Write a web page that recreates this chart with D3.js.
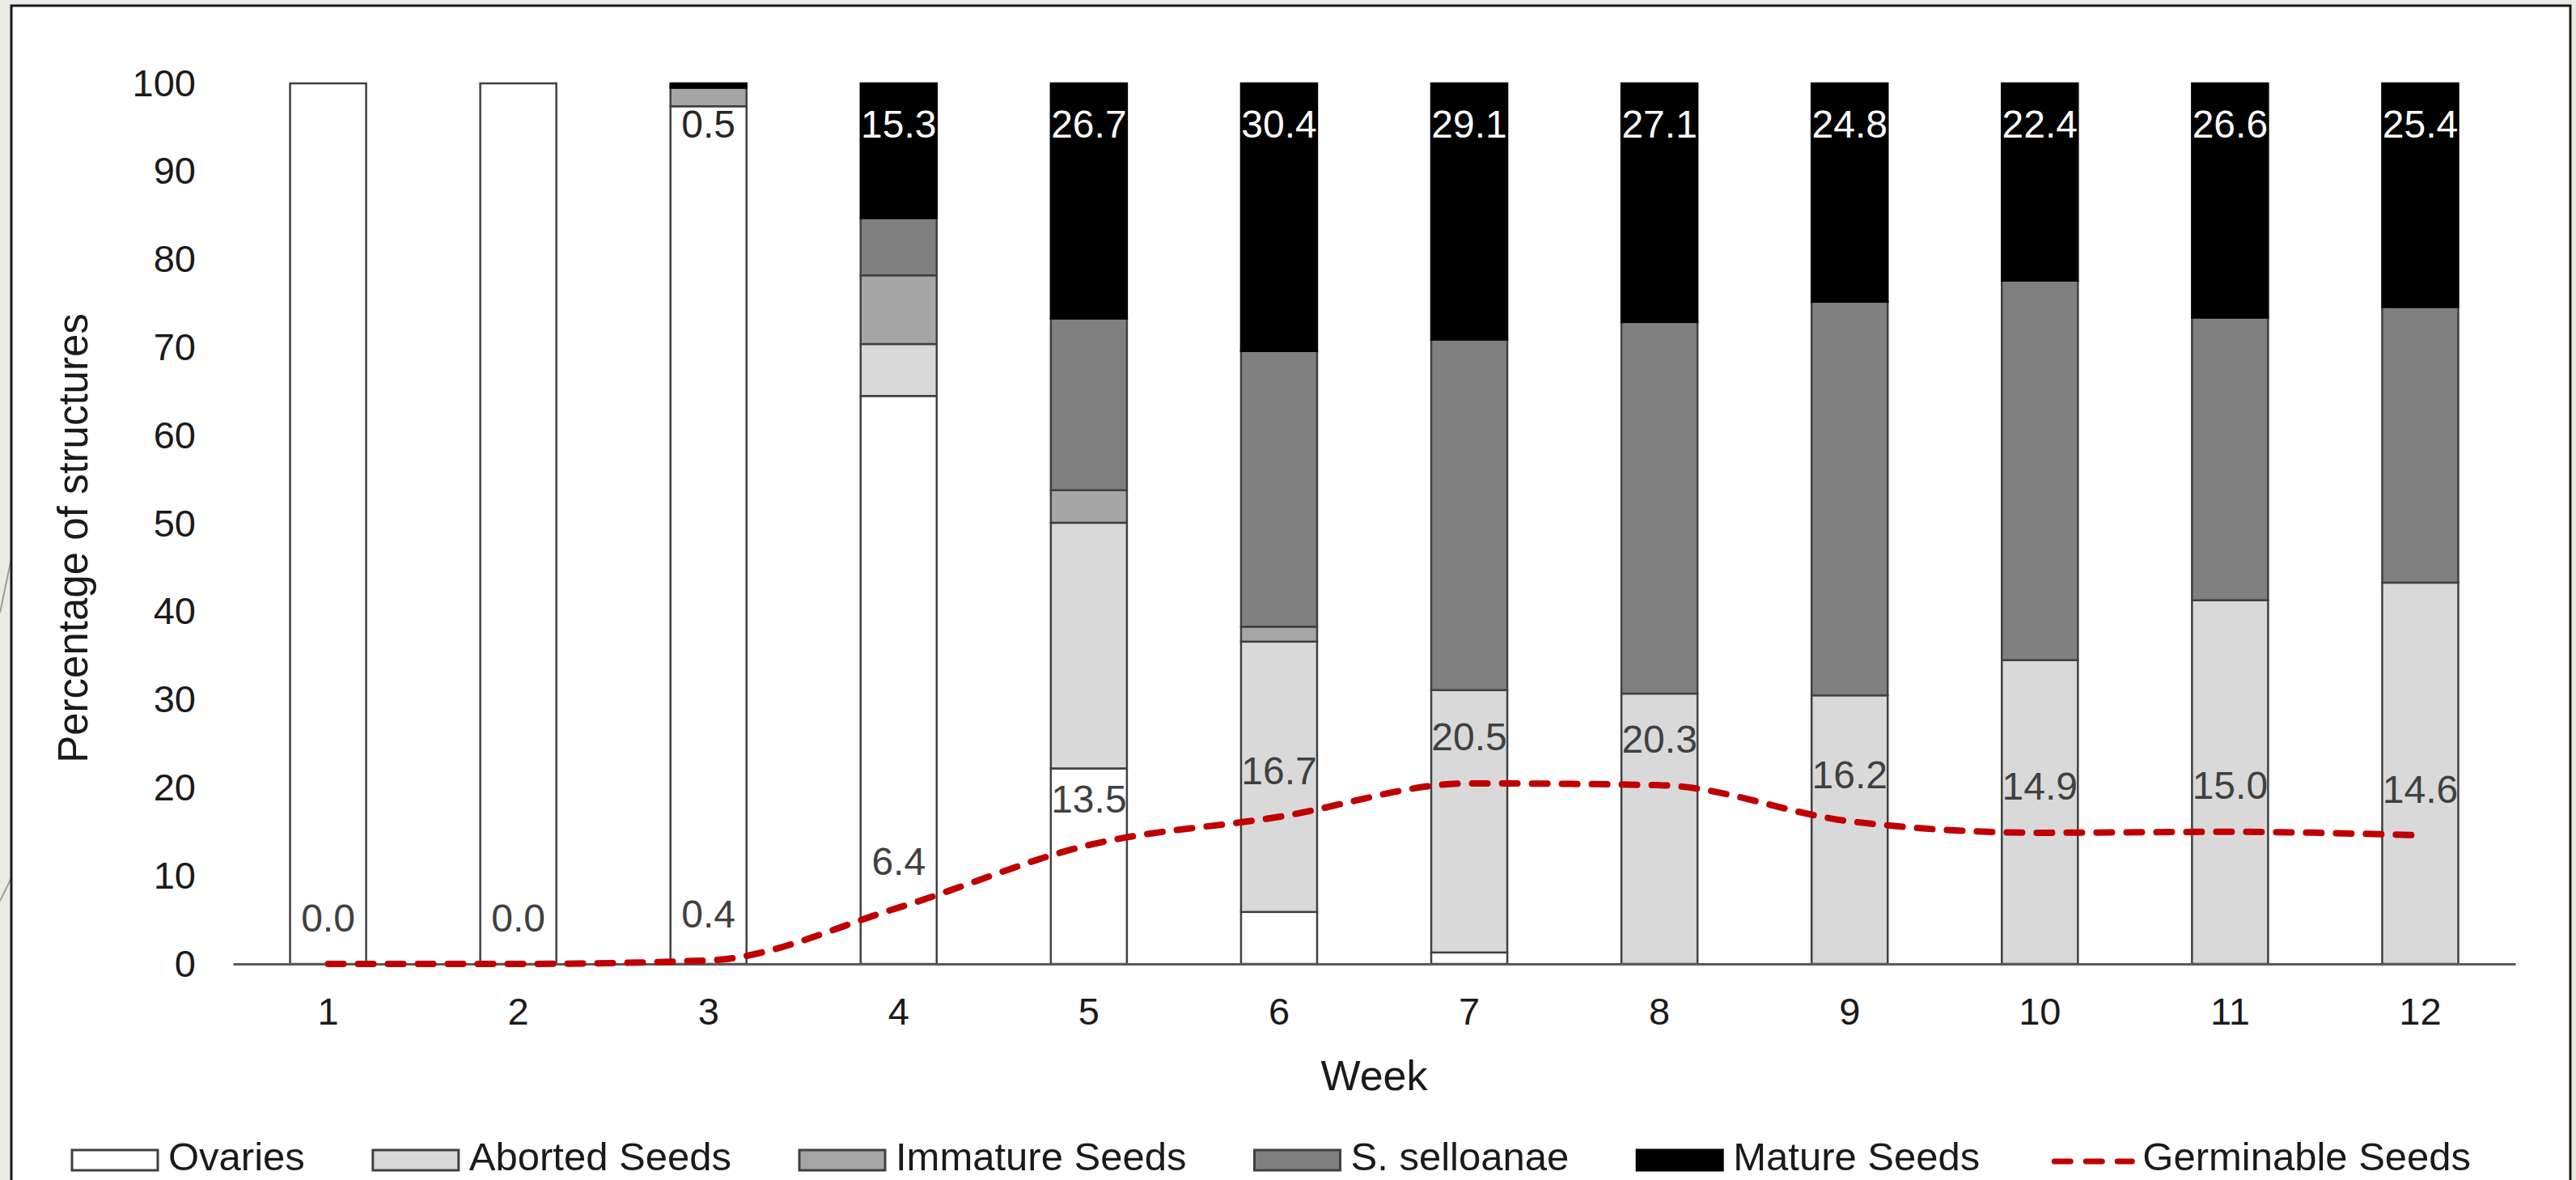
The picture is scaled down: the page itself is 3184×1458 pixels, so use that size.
<!DOCTYPE html>
<html>
<head>
<meta charset="utf-8">
<script src="https://cdn.jsdelivr.net/npm/d3@7"></script>
<style>
  html, body { margin: 0; padding: 0; background: #ebeae5; }
  svg { display: block; }
  text { font-family: "Liberation Sans", Arial, sans-serif; }
</style>
</head>
<body>
<svg id="chart" width="3184" height="1458"></svg>
<script>
// ---------------- data ----------------
const weeks = ["1","2","3","4","5","6","7","8","9","10","11","12"];
const seriesNames = ["Ovaries","Aborted Seeds","Immature Seeds","S. selloanae","Mature Seeds"];
const ovaries    = [100, 100, 97.4, 64.5, 22.2,  5.9,  1.3,  0.0,  0.0,  0.0,  0.0,  0.0];
const aborted    = [  0,   0,  0.0,  5.9, 27.9, 30.7, 29.8, 30.7, 30.5, 34.5, 41.3, 43.3];
const immature   = [  0,   0,  2.1,  7.8,  3.7,  1.7,  0.0,  0.0,  0.0,  0.0,  0.0,  0.0];
const selloanae  = [  0,   0,  0.0,  6.5, 19.5, 31.3, 39.8, 42.2, 44.7, 43.1, 32.1, 31.3];
const mature     = [  0,   0,  0.5, 15.3, 26.7, 30.4, 29.1, 27.1, 24.8, 22.4, 26.6, 25.4];
const germinable = [0.0, 0.0, 0.4, 6.4, 13.5, 16.7, 20.5, 20.3, 16.2, 14.9, 15.0, 14.6];
const yTicks = [0,10,20,30,40,50,60,70,80,90,100];
const lineName = "Germinable Seeds";
const yTitle = "Percentage of structures";
const xTitle = "Week";

// ---------------- styles ----------------
const fills = ["#ffffff","#d9d9d9","#a6a6a6","#808080","#000000"];
const strokes = ["#404040","#404040","#404040","#404040","#000000"];
const lineColor = "#c00000";
const FONT = 47;

const svg = d3.select("#chart");
const W = 3184, H = 1458;

// background + frame
svg.append("rect").attr("x",0).attr("y",0).attr("width",W).attr("height",H).attr("fill","#ebeae5");
svg.append("line").attr("x1",0).attr("y1",757).attr("x2",14).attr("y2",690).attr("stroke","#a39d8e").attr("stroke-width",2);
svg.append("line").attr("x1",0).attr("y1",1113).attr("x2",14).attr("y2",1085).attr("stroke","#a39d8e").attr("stroke-width",2);
svg.append("rect").attr("x",14).attr("y",7).attr("width",3163).attr("height",1470)
   .attr("fill","#ffffff").attr("stroke","#1a1a1a").attr("stroke-width",3);

// scales
const x = d3.scaleBand().domain(weeks).range([288, 3109]).paddingInner(0.6).paddingOuter(0.3);
const y = d3.scaleLinear().domain([0,100]).range([1191, 103]);

// table for stacking
const table = weeks.map((w,i) => ({
  week: w,
  "Ovaries": ovaries[i],
  "Aborted Seeds": aborted[i],
  "Immature Seeds": immature[i],
  "S. selloanae": selloanae[i],
  "Mature Seeds": mature[i]
}));
const stacked = d3.stack().keys(seriesNames)(table);

// y axis
const yAxis = svg.append("g").attr("transform","translate(288,0)")
  .call(d3.axisLeft(y).tickValues(yTicks).tickSize(0).tickPadding(46).tickFormat(d3.format("d")));
yAxis.select(".domain").remove();
yAxis.selectAll("text").attr("font-size",FONT).attr("fill","#1a1a1a")
  .style("font-family","'Liberation Sans', Arial, sans-serif");

// bars
const layers = svg.append("g").selectAll("g").data(stacked).join("g")
  .attr("fill",(d,i)=>fills[i]).attr("stroke",(d,i)=>strokes[i]);
layers.selectAll("rect").data(d=>d.map(v=>({v, week:v.data.week}))).join("rect")
  .filter(d => d.v[1]-d.v[0] > 0)
  .attr("x", d=>x(d.week))
  .attr("width", x.bandwidth())
  .attr("y", d=>y(d.v[1]))
  .attr("height", d=>y(d.v[0])-y(d.v[1]))
  .attr("stroke-width",2.5);

// x axis
const xAxis = svg.append("g").attr("transform","translate(0,1191)")
  .call(d3.axisBottom(x).tickSize(0).tickPadding(42));
xAxis.select(".domain").attr("stroke","#595959").attr("stroke-width",3);
xAxis.selectAll("text").attr("font-size",FONT).attr("fill","#1a1a1a")
  .style("font-family","'Liberation Sans', Arial, sans-serif");

// mature labels
svg.append("g").selectAll("text").data(weeks.map((w,i)=>({w, v:mature[i]})).filter(d=>d.v>0)).join("text")
  .attr("x", d=>x(d.w)+x.bandwidth()/2)
  .attr("y", d=>y(100)+50)
  .attr("text-anchor","middle").attr("dominant-baseline","central")
  .attr("font-size",48)
  .attr("fill", d=> d.v < 5 ? "#262626" : "#ffffff")
  .text(d=>d3.format(".1f")(d.v));

// germinable line
const lineGen = d3.line()
  .x((d,i)=>x(weeks[i])+x.bandwidth()/2)
  .y(d=>y(d))
  .curve(d3.curveMonotoneX);
svg.append("path").datum(germinable)
  .attr("d", lineGen)
  .attr("fill","none").attr("stroke",lineColor).attr("stroke-width",8)
  .attr("stroke-linecap","round").attr("stroke-dasharray","19,18");

// germinable labels
svg.append("g").selectAll("text").data(germinable).join("text")
  .attr("x",(d,i)=>x(weeks[i])+x.bandwidth()/2)
  .attr("y",d=>y(d)-57)
  .attr("text-anchor","middle").attr("dominant-baseline","central")
  .attr("font-size",48).attr("fill","#404040")
  .text(d=>d3.format(".1f")(d));

// axis titles
svg.append("text").attr("transform","translate(90,"+((y(0)+y(100))/2+18)+") rotate(-90)")
  .attr("text-anchor","middle").attr("dominant-baseline","central")
  .attr("font-size",51).attr("fill","#1a1a1a").text(yTitle);
svg.append("text").attr("x",(x.range()[0]+x.range()[1])/2).attr("y",1329)
  .attr("text-anchor","middle").attr("dominant-baseline","central")
  .attr("font-size",52).attr("fill","#1a1a1a").text(xTitle);

// legend
const legend = svg.append("g");
const LY = 1433;       // symbol centre
const LBASE = 1446;    // text baseline
let lx = 89;
const items = seriesNames.map((n,i)=>({name:n, type:"bar", i})).concat([{name:lineName, type:"line"}]);
items.forEach(it => {
  const g = legend.append("g");
  let symW;
  if (it.type === "bar") {
    symW = 106;
    g.append("rect").attr("x",lx).attr("y",LY-12).attr("width",symW).attr("height",25)
      .attr("fill",fills[it.i]).attr("stroke",strokes[it.i]).attr("stroke-width",3);
  } else {
    symW = 104;
    g.append("line").attr("x1",lx+8).attr("x2",lx+symW).attr("y1",LY+2).attr("y2",LY+2)
      .attr("stroke",lineColor).attr("stroke-width",7).attr("stroke-linecap","round")
      .attr("stroke-dasharray","20,19");
  }
  const t = g.append("text").attr("x",lx+symW+13).attr("y",LBASE)
    .attr("font-size",49).attr("fill","#1a1a1a").text(it.name);
  lx = lx + symW + 13 + t.node().getComputedTextLength() + 84;
});
</script>
</body>
</html>
